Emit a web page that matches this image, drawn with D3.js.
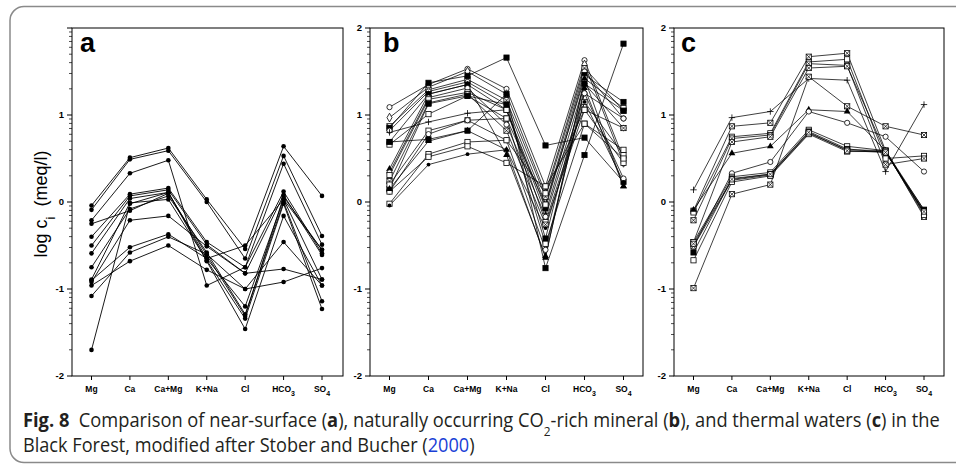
<!DOCTYPE html>
<html>
<head>
<meta charset="utf-8">
<script src="https://cdn.jsdelivr.net/npm/d3@7"></script>
<style>
  html, body { margin: 0; padding: 0; background: #fff; }
  svg { display: block; }
</style>
</head>
<body>
<svg id="fig" width="956" height="465"></svg>
<script>
// Ion categories along the x axis of every panel
const categories = ["Mg", "Ca", "Ca+Mg", "K+Na", "Cl", "HCO3", "SO4"];
const yMajorTicks = [-2, -1, 0, 1, 2];

// (a) near-surface waters: log ci per sample, in category order
const seriesA = [
  [-0.04, 0.51, 0.62, 0.03, -0.54, 0.64, 0.07],
  [-0.09, 0.49, 0.59, 0.00, -0.65, 0.53, -0.39],
  [-0.21, 0.33, 0.48, -0.96, -0.75, 0.44, -0.49],
  [-0.25, -0.10, 0.10, -0.61, -1.31, 0.06, -0.55],
  [-0.40, 0.09, 0.16, -0.46, -0.75, 0.12, -0.59],
  [-0.50, 0.07, 0.14, -0.49, -0.82, 0.08, -0.61],
  [-0.59, 0.04, 0.11, -0.65, -1.20, 0.03, -0.89],
  [-0.75, -0.08, 0.07, -0.58, -1.29, 0.00, -1.14],
  [-0.89, -0.01, 0.03, -0.67, -1.34, -0.02, -1.23],
  [-1.70, -0.02, 0.11, -0.68, -1.46, -0.16, -0.96],
  [-0.92, -0.21, -0.16, -0.51, -0.82, -0.77, -0.89],
  [-0.90, -0.52, -0.37, -0.65, -0.50, 0.03, -0.55],
  [-1.08, -0.58, -0.40, -0.60, -1.00, -0.46, -0.96],
  [-0.96, -0.68, -0.50, -0.78, -1.00, -0.92, -0.76]
];

// (b) CO2-rich mineral waters
const seriesB = [
  [1.09, 1.35, 1.53, 1.30, 0.18, 1.63, 0.50],
  [0.97, 1.32, 1.50, 1.24, 0.10, 1.58, 0.45],
  [0.87, 1.29, 1.41, 1.17, 0.06, 1.54, 1.05],
  [0.85, 1.37, 1.45, 1.66, 0.65, 0.74, 0.23],
  [0.82, 1.27, 1.38, 1.12, -0.02, 1.50, 0.96],
  [0.69, 1.24, 1.35, 1.06, -0.07, 1.46, 1.15],
  [0.66, 1.01, 1.22, 0.96, -0.03, 1.42, 1.08],
  [0.80, 0.92, 1.02, 1.06, -0.13, 1.36, 0.85],
  [0.38, 1.24, 1.35, 0.54, -0.62, 1.31, 0.18],
  [0.34, 1.20, 1.31, 0.89, -0.17, 1.25, 0.96],
  [0.31, 1.18, 1.26, 1.06, -0.23, 1.15, 0.54],
  [0.24, 1.14, 1.24, 0.82, -0.26, 1.06, 0.85],
  [0.15, 1.13, 1.22, 1.12, -0.42, 1.36, 1.05],
  [0.20, 0.82, 0.94, 0.96, -0.48, 0.90, 0.60],
  [0.12, 0.78, 0.94, 0.71, -0.55, 1.25, 0.27],
  [0.69, 0.72, 0.82, 1.24, -0.76, 0.54, 1.82],
  [-0.02, 0.55, 0.69, 0.71, 0.10, 1.06, 0.45],
  [-0.04, 0.43, 0.55, 0.60, -0.30, 1.15, 0.23],
  [0.12, 0.52, 0.64, 0.45, 0.18, 0.90, 0.50],
  [0.15, 0.70, 0.82, 0.60, -0.64, 1.42, 0.18]
];
const markersB = ["oc", "od", "xs", "fs", "oc", "fs", "os", "plus", "ft", "oc",
                  "os", "xs", "fs", "os", "oc", "fs", "os", "fc", "os", "ft"];

// (c) thermal waters
const seriesC = [
  [0.14, 0.97, 1.04, 1.42, 1.40, 0.35, 1.12],
  [-0.10, 0.87, 0.91, 1.67, 1.71, 0.59, -0.09],
  [-0.12, 0.75, 0.79, 1.61, 1.64, 0.50, 0.53],
  [-0.21, 0.73, 0.77, 1.59, 1.57, 0.43, 0.50],
  [-0.46, 0.69, 0.75, 1.54, 1.56, 0.57, -0.11],
  [-0.99, 0.09, 0.20, 1.44, 1.10, 0.87, 0.77],
  [-0.09, 0.56, 0.64, 1.06, 1.04, 0.59, -0.13],
  [-0.51, 0.33, 0.46, 1.04, 0.91, 0.75, 0.35],
  [-0.46, 0.29, 0.34, 0.83, 0.64, 0.59, -0.13],
  [-0.58, 0.27, 0.32, 0.81, 0.61, 0.57, -0.09],
  [-0.51, 0.25, 0.31, 0.79, 0.60, 0.59, -0.17],
  [-0.67, 0.23, 0.30, 0.78, 0.58, 0.58, -0.15],
  [-0.48, 0.26, 0.32, 0.80, 0.59, 0.57, -0.11]
];
const markersC = ["plus", "xs", "os", "xs", "xs", "xs", "ft", "oc", "os", "fs", "xs", "os", "xs"];

// ---------------------------------------------------------------------------
const svg = d3.select("#fig");
const FONT = "'Liberation Sans', Arial, sans-serif";

// rounded outer frame of the figure
svg.append("rect")
  .attr("x", 10).attr("y", 6.5).attr("width", 980).attr("height", 456)
  .attr("rx", 14).attr("fill", "none")
  .attr("stroke", "#8a8a8a").attr("stroke-width", 1.5);

const panels = [
  { letter: "a", left: 72, right: 343, x0: 91.5, x1: 322, data: seriesA, markers: null, topLabel: false, lx: 80 },
  { letter: "b", left: 370, right: 643, x0: 389.5, x1: 623.5, data: seriesB, markers: markersB, topLabel: true, lx: 383 },
  { letter: "c", left: 674, right: 944, x0: 693.5, x1: 924, data: seriesC, markers: markersC, topLabel: true, lx: 681 }
];
const plotTop = 28, plotBottom = 376;

function drawMarker(g, type, x, y) {
  const s = 5.2;
  if (type === "dot") {
    g.append("circle").attr("cx", x).attr("cy", y).attr("r", 2.3).attr("fill", "#000");
  } else if (type === "fc") {
    g.append("circle").attr("cx", x).attr("cy", y).attr("r", 1.9).attr("fill", "#000");
  } else if (type === "oc") {
    g.append("circle").attr("cx", x).attr("cy", y).attr("r", 2.6)
      .attr("fill", "#fff").attr("stroke", "#000").attr("stroke-width", 0.8);
  } else if (type === "os" || type === "fs" || type === "xs") {
    g.append("rect").attr("x", x - s / 2).attr("y", y - s / 2).attr("width", s).attr("height", s)
      .attr("fill", type === "fs" ? "#000" : "#fff").attr("stroke", "#000").attr("stroke-width", 0.8);
    if (type === "xs") {
      g.append("path")
        .attr("d", `M${x - s / 2},${y - s / 2}L${x + s / 2},${y + s / 2}M${x + s / 2},${y - s / 2}L${x - s / 2},${y + s / 2}`)
        .attr("stroke", "#000").attr("stroke-width", 0.7);
    }
  } else if (type === "od") {
    g.append("path").attr("transform", `translate(${x},${y})`)
      .attr("d", d3.symbol(d3.symbolDiamond, 22)())
      .attr("fill", "#fff").attr("stroke", "#000").attr("stroke-width", 0.8);
  } else if (type === "ft") {
    g.append("path").attr("transform", `translate(${x},${y})`)
      .attr("d", d3.symbol(d3.symbolTriangle, 20)())
      .attr("fill", "#000");
  } else if (type === "plus") {
    g.append("path")
      .attr("d", `M${x - 3.2},${y}H${x + 3.2}M${x},${y - 3.2}V${y + 3.2}`)
      .attr("stroke", "#000").attr("stroke-width", 0.8);
  }
}

panels.forEach(p => {
  const g = svg.append("g");
  const xScale = d3.scalePoint().domain(categories).range([p.x0, p.x1]);
  const yScale = d3.scaleLinear().domain([-2, 2]).range([plotBottom, plotTop]);

  // frame
  g.append("rect").attr("x", p.left).attr("y", plotTop)
    .attr("width", p.right - p.left).attr("height", plotBottom - plotTop)
    .attr("fill", "none").attr("stroke", "#000").attr("stroke-width", 1);

  // y axis: major ticks, labels and log-style minor ticks
  const minor = [];
  [-2, -1, 0, 1].forEach(d => { for (let k = 2; k <= 9; k++) minor.push(d + Math.log10(k)); });
  g.selectAll(".minor").data(minor).join("line")
    .attr("x1", p.left - 3).attr("x2", p.left)
    .attr("y1", d => yScale(d)).attr("y2", d => yScale(d))
    .attr("stroke", "#000").attr("stroke-width", 0.7);
  g.selectAll(".major").data(yMajorTicks).join("line")
    .attr("x1", p.left - 5).attr("x2", p.left)
    .attr("y1", d => yScale(d)).attr("y2", d => yScale(d))
    .attr("stroke", "#000").attr("stroke-width", 1);
  g.selectAll(".ylab").data(yMajorTicks.filter(d => p.topLabel || d < 2)).join("text")
    .attr("x", p.left - 8).attr("y", d => yScale(d) + 3.2)
    .attr("text-anchor", "end").attr("font-family", FONT).attr("font-weight", "bold")
    .attr("font-size", 9.5).text(d => d);

  // x axis ticks and category labels
  g.selectAll(".xt").data(categories).join("line")
    .attr("x1", d => xScale(d)).attr("x2", d => xScale(d))
    .attr("y1", plotBottom).attr("y2", plotBottom + 4)
    .attr("stroke", "#000").attr("stroke-width", 1);
  const xl = g.selectAll(".xl").data(categories).join("text")
    .attr("x", d => xScale(d)).attr("y", 392)
    .attr("text-anchor", "middle").attr("font-family", FONT).attr("font-weight", "bold")
    .attr("font-size", 8.5);
  xl.each(function (d) {
    const t = d3.select(this);
    const m = d.match(/^(.*?)(\d)$/);
    if (m) {
      t.append("tspan").text(m[1]);
      t.append("tspan").attr("baseline-shift", "sub").attr("font-size", 7).text(m[2]);
    } else {
      t.text(d);
    }
  });

  // sample lines
  const line = d3.line().x((d, i) => xScale(categories[i])).y(d => yScale(d));
  const lg = g.append("g");
  p.data.forEach(s => {
    lg.append("path").attr("d", line(s)).attr("fill", "none")
      .attr("stroke", "#000").attr("stroke-width", p.markers ? 0.75 : 0.9);
  });
  const mg = g.append("g");
  p.data.forEach((s, si) => {
    const type = p.markers ? p.markers[si] : "dot";
    s.forEach((v, i) => drawMarker(mg, type, xScale(categories[i]), yScale(v)));
  });

  // panel letter
  g.append("text").attr("x", p.lx).attr("y", 52)
    .attr("font-family", FONT).attr("font-weight", "bold").attr("font-size", 27)
    .text(p.letter);
});

// y axis title
const yt = svg.append("text")
  .attr("transform", "translate(47,204) rotate(-90)")
  .attr("text-anchor", "middle").attr("font-family", FONT).attr("font-size", 18);
yt.append("tspan").text("log c");
yt.append("tspan").attr("baseline-shift", "sub").attr("font-size", 13).text("i");
yt.append("tspan").text("\u00a0\u00a0(meq/l)");

// caption
const capFont = "'Open Sans', 'Noto Sans', sans-serif";
function captionLine(y, x0, width, parts) {
  const t = svg.append("text").attr("x", 0).attr("y", 0)
    .attr("font-family", capFont).attr("font-size", 20).attr("fill", "#231f20");
  parts.forEach(pt => {
    const ts = t.append("tspan").text(pt.t);
    if (pt.b) ts.attr("font-weight", "bold");
    if (pt.sub) ts.attr("baseline-shift", "sub").attr("font-size", 13);
    if (pt.c) ts.attr("fill", pt.c);
  });
  const w = t.node().getComputedTextLength();
  t.attr("transform", `translate(${x0},${y}) scale(${width / w},1)`);
}
captionLine(427, 23, 917, [
  { t: "Fig. 8", b: true },
  { t: "\u00a0\u00a0Comparison of near-surface (" }, { t: "a", b: true },
  { t: "), naturally occurring CO" }, { t: "2", sub: true },
  { t: "-rich mineral (" }, { t: "b", b: true },
  { t: "), and thermal waters (" }, { t: "c", b: true }, { t: ") in the" }
]);
captionLine(452, 23, 452, [
  { t: "Black Forest, modified after Stober and Bucher (" },
  { t: "2000", c: "#1a3fd6" }, { t: ")" }
]);
</script>
</body>
</html>
